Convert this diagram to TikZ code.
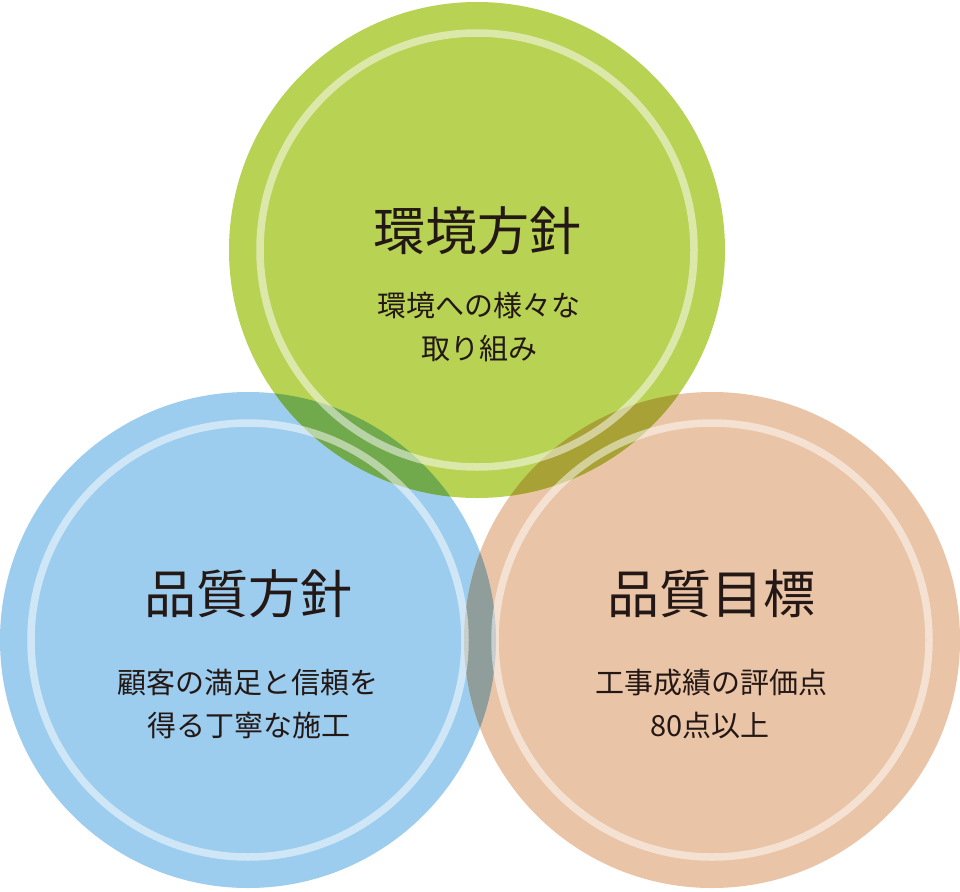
\documentclass[tikz,border=0pt]{standalone}
\usepackage{fontspec}
\newfontfamily\jpfont{Noto Sans CJK JP}
\definecolor{cgreen}{RGB}{184,210,83}
\definecolor{cblue}{RGB}{157,205,238}
\definecolor{ctan}{RGB}{233,196,166}
\definecolor{cgb}{RGB}{113,169,77}
\definecolor{cgt}{RGB}{168,161,54}
\definecolor{cbt}{RGB}{143,157,155}
\definecolor{ink}{RGB}{35,24,21}
\tikzset{
  ringline/.style={draw=white, draw opacity=0.5, line width=7.5pt},
  titletext/.style={anchor=base, inner sep=0pt, text=ink, font=\jpfont\fontsize{52}{60}\selectfont},
  subtext/.style={anchor=base, inner sep=0pt, text=ink, font=\jpfont\fontsize{29}{40}\selectfont},
}
\begin{document}
\begin{tikzpicture}[x=1pt,y=-1pt]
\useasboundingbox (0,0) rectangle (960,891);
\fill[white] (0,0) rectangle (960,891);
\def\R{248}
% base fills
\fill[cblue] (248,640) circle[radius=\R];
\fill[ctan] (712,640) circle[radius=\R];
\fill[cgreen] (477,250) circle[radius=\R];
% overlaps
\begin{scope}
  \clip (248,640) circle[radius=\R];
  \fill[cbt] (712,640) circle[radius=\R];
\end{scope}
\begin{scope}
  \clip (477,250) circle[radius=\R];
  \fill[cgb] (248,640) circle[radius=\R];
  \fill[cgt] (712,640) circle[radius=\R];
\end{scope}
% rings
\draw[ringline] (248,640) circle[radius=217];
\draw[ringline] (712,640) circle[radius=217];
\draw[ringline] (477,250) circle[radius=217];
% texts
\node[titletext] (t1) at (477,250) {環境方針};
\node[subtext] (s1a) at (479,316) {環境への様々な};
\node[subtext] (s1b) at (479,359) {取り組み};
\node[titletext] (t2) at (248,613) {品質方針};
\node[subtext] (s2a) at (248,693) {顧客の満足と信頼を};
\node[subtext] (s2b) at (249,736) {得る丁寧な施工};
\node[titletext] (t3) at (711,613) {品質目標};
\node[subtext] (s3a) at (711,693) {工事成績の評価点};
\node[subtext] (s3b) at (710,736) {80点以上};
\end{tikzpicture}
\end{document}
